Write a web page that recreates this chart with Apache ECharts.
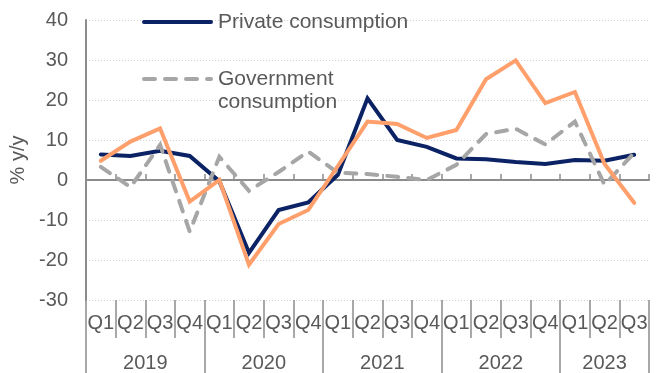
<!DOCTYPE html>
<html>
<head>
<meta charset="utf-8">
<title>Consumption growth</title>
<script src="https://cdn.jsdelivr.net/npm/echarts@6/dist/echarts.min.js"></script>
<style>
  html, body { margin: 0; padding: 0; background: #ffffff; }
  #chart { width: 656px; height: 373px; }
</style>
</head>
<body>
<div id="chart"></div>
<script>
// Quarterly categories, 2019 Q1 to 2023 Q3
var quarters = ['Q1','Q2','Q3','Q4','Q1','Q2','Q3','Q4','Q1','Q2','Q3','Q4',
                'Q1','Q2','Q3','Q4','Q1','Q2','Q3'];
// Year labels, each centred under its own block of quarters
var years = ['2019', '2020', '2021', '2022', '2023'];
var quartersPerYear = [4, 4, 4, 4, 3];

// % y/y
var privateConsumption = [6.4, 6.0, 7.3, 6.0, -0.3, -18.2, -7.5, -5.6, 1.3, 20.4,
                          10.0, 8.3, 5.4, 5.2, 4.5, 4.0, 5.0, 4.8, 6.3];
var governmentConsumption = [3.3, -1.8, 8.8, -12.9, 5.8, -2.7, 2.0, 7.1, 1.8, 1.5,
                             0.8, 0.0, 3.8, 11.5, 12.8, 8.9, 14.6, -1.2, 6.8];
var otherSeries = [4.8, 9.6, 12.9, -5.4, 0.0, -21.2, -11.0, -7.5, 3.5, 14.6,
                   14.0, 10.5, 12.5, 25.2, 29.9, 19.2, 22.0, 4.0, -5.7];

var yTicks = { min: -30, max: 40, step: 10 };

// Year axis runs on half-quarter steps: boundaries sit on even slots,
// each year label sits at the middle of its span.
var halfSlots = [];
var yearBoundaries = [0];
(function () {
  var total = 0;
  quartersPerYear.forEach(function (n) { total += n; });
  for (var i = 0; i <= total * 2; i++) halfSlots.push('');
  var pos = 0;
  years.forEach(function (y, k) {
    var span = quartersPerYear[k] * 2;
    halfSlots[pos + span / 2] = y;
    pos += span;
    yearBoundaries.push(pos);
  });
})();

var FONT = 'Liberation Sans, Arial, sans-serif';
var TEXT = '#595959';
var AXIS = '#8c8c8c';
var NAVY = '#0b2265';
var GREY = '#a6a6a6';
var ORANGE = '#ffa06c';

// Legend swatches: a 4px line with round ends, solid and dashed
function capsule(x0, len) {
  var a = x0 + 2, b = x0 + len - 2;
  return 'M' + a + ',0H' + b + 'A2,2 0 0 1 ' + b + ',4H' + a + 'A2,2 0 0 1 ' + a + ',0Z';
}
var SOLID_ICON = 'path://' + capsule(0, 71);
var DASH_ICON = 'path://' + capsule(0, 15) + capsule(21, 15) + capsule(42, 15) + capsule(63, 8);

var chart = echarts.init(document.getElementById('chart'), null, { renderer: 'canvas' });

chart.setOption({
  animation: false,
  backgroundColor: '#ffffff',
  textStyle: { fontFamily: FONT },
  grid: {
    left: 86, right: 7, top: 20, bottom: 73,
    containLabel: false, outerBoundsMode: 'none'
  },
  legend: [
    {
      data: [{ name: 'Private consumption', icon: SOLID_ICON }],
      left: 142, top: 10.5, padding: 0,
      itemWidth: 71, itemHeight: 4, itemGap: 5,
      itemStyle: { color: NAVY, borderWidth: 0 },
      textStyle: { fontSize: 21, color: TEXT, fontFamily: FONT, lineHeight: 23 }
    },
    {
      data: [{ name: 'Government consumption', icon: DASH_ICON }],
      left: 142, top: 44.5, padding: 0,
      itemWidth: 71, itemHeight: 4,
      itemStyle: { color: GREY, borderWidth: 0 },
      // blank first line keeps the swatch level with "Government"
      formatter: function () { return ' \nGovernment\nconsumption'; },
      textStyle: { fontSize: 21, color: TEXT, fontFamily: FONT, lineHeight: 23 }
    }
  ],
  xAxis: [
    {
      // quarter labels under the plot
      type: 'category', data: quarters, position: 'bottom',
      axisLine: { show: false, onZero: false },
      axisTick: { show: true, length: 38, interval: 0, lineStyle: { color: AXIS, width: 1.5 } },
      axisLabel: { interval: 0, margin: 13, fontSize: 20, color: TEXT, fontFamily: FONT },
      splitLine: { show: false }
    },
    {
      // year labels with long separators
      type: 'category', data: halfSlots, position: 'bottom', boundaryGap: false,
      axisLine: { show: false, onZero: false },
      axisTick: {
        show: true, length: 73,
        interval: function (idx) { return yearBoundaries.indexOf(idx) >= 0; },
        lineStyle: { color: AXIS, width: 1.5 }
      },
      axisLabel: { interval: 0, margin: 53, fontSize: 20, color: TEXT, fontFamily: FONT },
      splitLine: { show: false }
    },
    {
      // zero line with small inward ticks
      type: 'category', data: quarters, position: 'bottom',
      axisLine: { show: true, onZero: true, lineStyle: { color: AXIS, width: 2 } },
      axisTick: { show: true, inside: true, length: 6, interval: 0, lineStyle: { color: AXIS, width: 1.5 } },
      axisLabel: { show: false },
      splitLine: { show: false }
    }
  ],
  yAxis: {
    type: 'value',
    min: yTicks.min, max: yTicks.max, interval: yTicks.step,
    name: '% y/y', nameLocation: 'middle', nameRotate: 90, nameGap: 48,
    nameTextStyle: { fontSize: 20, color: TEXT, fontFamily: FONT },
    axisLine: { show: true, lineStyle: { color: AXIS, width: 2 } },
    axisTick: { show: false },
    axisLabel: { margin: 18, fontSize: 20, color: TEXT, fontFamily: FONT },
    splitLine: { show: true, lineStyle: { color: '#d0d0d0', width: 1, type: [1, 2] } }
  },
  series: [
    {
      name: 'Private consumption', type: 'line', xAxisIndex: 2,
      data: privateConsumption, symbol: 'none', showSymbol: false,
      lineStyle: { color: NAVY, width: 4, cap: 'round', join: 'miter' },
      itemStyle: { color: NAVY }, z: 3
    },
    {
      name: 'Government consumption', type: 'line', xAxisIndex: 2,
      data: governmentConsumption, symbol: 'none', showSymbol: false,
      lineStyle: { color: GREY, width: 4, type: [11, 10], cap: 'round', join: 'miter' },
      itemStyle: { color: GREY }, z: 4
    },
    {
      name: 'Other', type: 'line', xAxisIndex: 2,
      data: otherSeries, symbol: 'none', showSymbol: false,
      lineStyle: { color: ORANGE, width: 4, cap: 'round', join: 'miter' },
      itemStyle: { color: ORANGE }, z: 5
    }
  ]
});
</script>
</body>
</html>
